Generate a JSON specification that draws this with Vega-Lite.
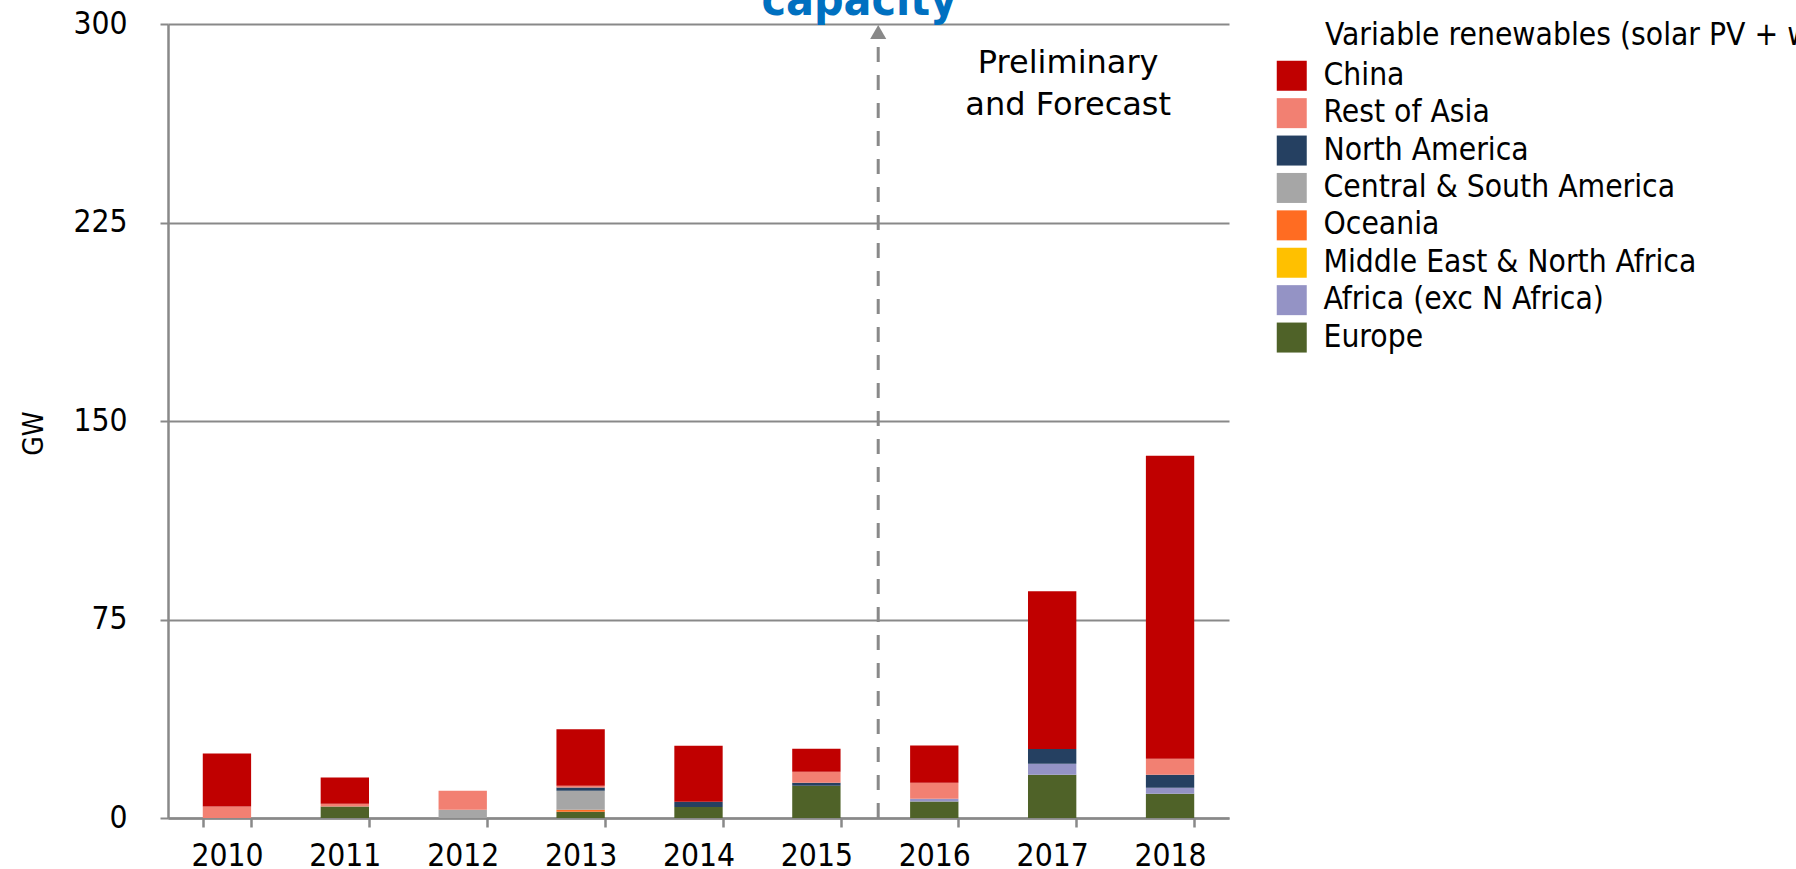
{
  "$schema": "https://vega.github.io/schema/vega-lite/v6.json",
  "width": 1061,
  "height": 794,
  "autosize": {"type": "none"},
  "padding": {"left": 168, "top": 24, "right": 567, "bottom": 51},
  "background": "white",
  "config": {
    "font": "DejaVu Sans Condensed",
    "view": {"stroke": null},
    "axis": {"labelFont": "DejaVu Sans Condensed", "titleFont": "DejaVu Sans Condensed", "labelColor": "black", "titleColor": "black"}
  },
  "layer": [
    {
      "data": {
        "values": [
          {"year": "2010", "region": "Rest of Asia", "gw": 4.3, "ord": 7},
          {"year": "2010", "region": "China", "gw": 20.1, "ord": 8},
          {"year": "2011", "region": "Europe", "gw": 4.3, "ord": 1},
          {"year": "2011", "region": "Rest of Asia", "gw": 1.1, "ord": 7},
          {"year": "2011", "region": "China", "gw": 9.9, "ord": 8},
          {"year": "2012", "region": "Central & South America", "gw": 3.1, "ord": 5},
          {"year": "2012", "region": "Rest of Asia", "gw": 7.2, "ord": 7},
          {"year": "2013", "region": "Europe", "gw": 2.4, "ord": 1},
          {"year": "2013", "region": "Oceania", "gw": 0.7, "ord": 4},
          {"year": "2013", "region": "Central & South America", "gw": 7.2, "ord": 5},
          {"year": "2013", "region": "North America", "gw": 1.2, "ord": 6},
          {"year": "2013", "region": "Rest of Asia", "gw": 0.7, "ord": 7},
          {"year": "2013", "region": "China", "gw": 21.3, "ord": 8},
          {"year": "2014", "region": "Europe", "gw": 4.2, "ord": 1},
          {"year": "2014", "region": "North America", "gw": 1.9, "ord": 6},
          {"year": "2014", "region": "China", "gw": 21.2, "ord": 8},
          {"year": "2015", "region": "Europe", "gw": 12.2, "ord": 1},
          {"year": "2015", "region": "North America", "gw": 1.1, "ord": 6},
          {"year": "2015", "region": "Rest of Asia", "gw": 4.2, "ord": 7},
          {"year": "2015", "region": "China", "gw": 8.7, "ord": 8},
          {"year": "2016", "region": "Europe", "gw": 6.2, "ord": 1},
          {"year": "2016", "region": "Africa (exc N Africa)", "gw": 1.1, "ord": 2},
          {"year": "2016", "region": "Rest of Asia", "gw": 6.0, "ord": 7},
          {"year": "2016", "region": "China", "gw": 14.1, "ord": 8},
          {"year": "2017", "region": "Europe", "gw": 16.3, "ord": 1},
          {"year": "2017", "region": "Africa (exc N Africa)", "gw": 4.2, "ord": 2},
          {"year": "2017", "region": "North America", "gw": 5.6, "ord": 6},
          {"year": "2017", "region": "China", "gw": 59.6, "ord": 8},
          {"year": "2018", "region": "Europe", "gw": 9.2, "ord": 1},
          {"year": "2018", "region": "Africa (exc N Africa)", "gw": 2.2, "ord": 2},
          {"year": "2018", "region": "North America", "gw": 4.9, "ord": 6},
          {"year": "2018", "region": "Rest of Asia", "gw": 6.1, "ord": 7},
          {"year": "2018", "region": "China", "gw": 114.5, "ord": 8}
        ]
      },
      "mark": {"type": "bar"},
      "encoding": {
        "x": {
          "field": "year", "type": "nominal",
          "scale": {"domain": ["2010","2011","2012","2013","2014","2015","2016","2017","2018"], "paddingInner": 0.59, "paddingOuter": 0.295},
          "axis": {"title": null, "labelAngle": 0, "labelFontSize": 31.5, "labelPadding": 13, "tickBand": "extent", "tickSize": 9, "tickWidth": 2.5, "tickColor": "#898989", "domainColor": "#898989", "domainWidth": 2.5}
        },
        "y": {
          "field": "gw", "type": "quantitative", "stack": "zero",
          "scale": {"domain": [0, 300], "nice": false},
          "axis": {"title": "GW", "values": [0, 75, 150, 225, 300], "labelFontSize": 31.5, "labelPadding": 33, "tickSize": 8, "tickWidth": 2, "tickColor": "#898989", "domainColor": "#898989", "domainWidth": 2.5, "grid": true, "gridColor": "#898989", "gridWidth": 2, "titleFontSize": 28, "titleFontWeight": "normal", "titleX": -134, "titleY": 409, "titleAngle": -90, "titleAlign": "center", "titleBaseline": "middle"}
        },
        "color": {
          "field": "region", "type": "nominal",
          "scale": {
            "domain": ["China", "Rest of Asia", "North America", "Central & South America", "Oceania", "Middle East & North Africa", "Africa (exc N Africa)", "Europe"],
            "range": ["#C00000", "#F28072", "#254061", "#A6A6A6", "#FF6C22", "#FFC000", "#9493C5", "#4F6228"]
          },
          "legend": {"title": null, "orient": "none", "legendX": 1108, "legendY": 36, "symbolType": "square", "symbolSize": 900, "symbolStrokeWidth": 0, "symbolOpacity": 1, "labelFontSize": 31.5, "labelFont": "DejaVu Sans Condensed", "labelColor": "black", "labelOffset": 16, "rowPadding": 4.4, "labelLimit": 600}
        },
        "order": {"field": "ord", "type": "quantitative"}
      }
    },
    {
      "data": {"values": [{}]},
      "mark": {"type": "rule", "color": "#898989", "strokeWidth": 3, "strokeDash": [15, 13]},
      "encoding": {
        "x": {"datum": "2016", "bandPosition": -0.66},
        "y": {"datum": 0},
        "y2": {"datum": 293}
      }
    },
    {
      "data": {"values": [{}]},
      "mark": {"type": "point", "shape": "triangle-up", "filled": true, "color": "#898989", "opacity": 1, "size": 260},
      "encoding": {
        "x": {"datum": "2016", "bandPosition": -0.66},
        "y": {"datum": 297}
      }
    },
    {
      "data": {"values": [{}]},
      "mark": {"type": "text", "text": ["Preliminary", "and Forecast"], "font": "DejaVu Sans", "fontSize": 32, "lineHeight": 42, "align": "center", "baseline": "middle", "dx": 16, "color": "black"},
      "encoding": {
        "x": {"datum": "2017", "bandPosition": 0.5},
        "y": {"datum": 285.4}
      }
    },
    {
      "data": {"values": [{}]},
      "mark": {"type": "text", "text": "capacity", "fontSize": 46, "fontWeight": "bold", "align": "center", "baseline": "alphabetic", "dx": -19, "dy": -9, "color": "#0070C0"},
      "encoding": {
        "x": {"datum": "2016", "bandPosition": -0.66},
        "y": {"datum": 300}
      }
    },
    {
      "data": {"values": [{}]},
      "mark": {"type": "text", "text": "Variable renewables (solar PV + wind)", "fontSize": 31.5, "align": "left", "baseline": "middle", "dx": 155, "color": "black"},
      "encoding": {
        "x": {"datum": "2018", "bandPosition": 0.5},
        "y": {"datum": 295.3}
      }
    }
  ]
}
